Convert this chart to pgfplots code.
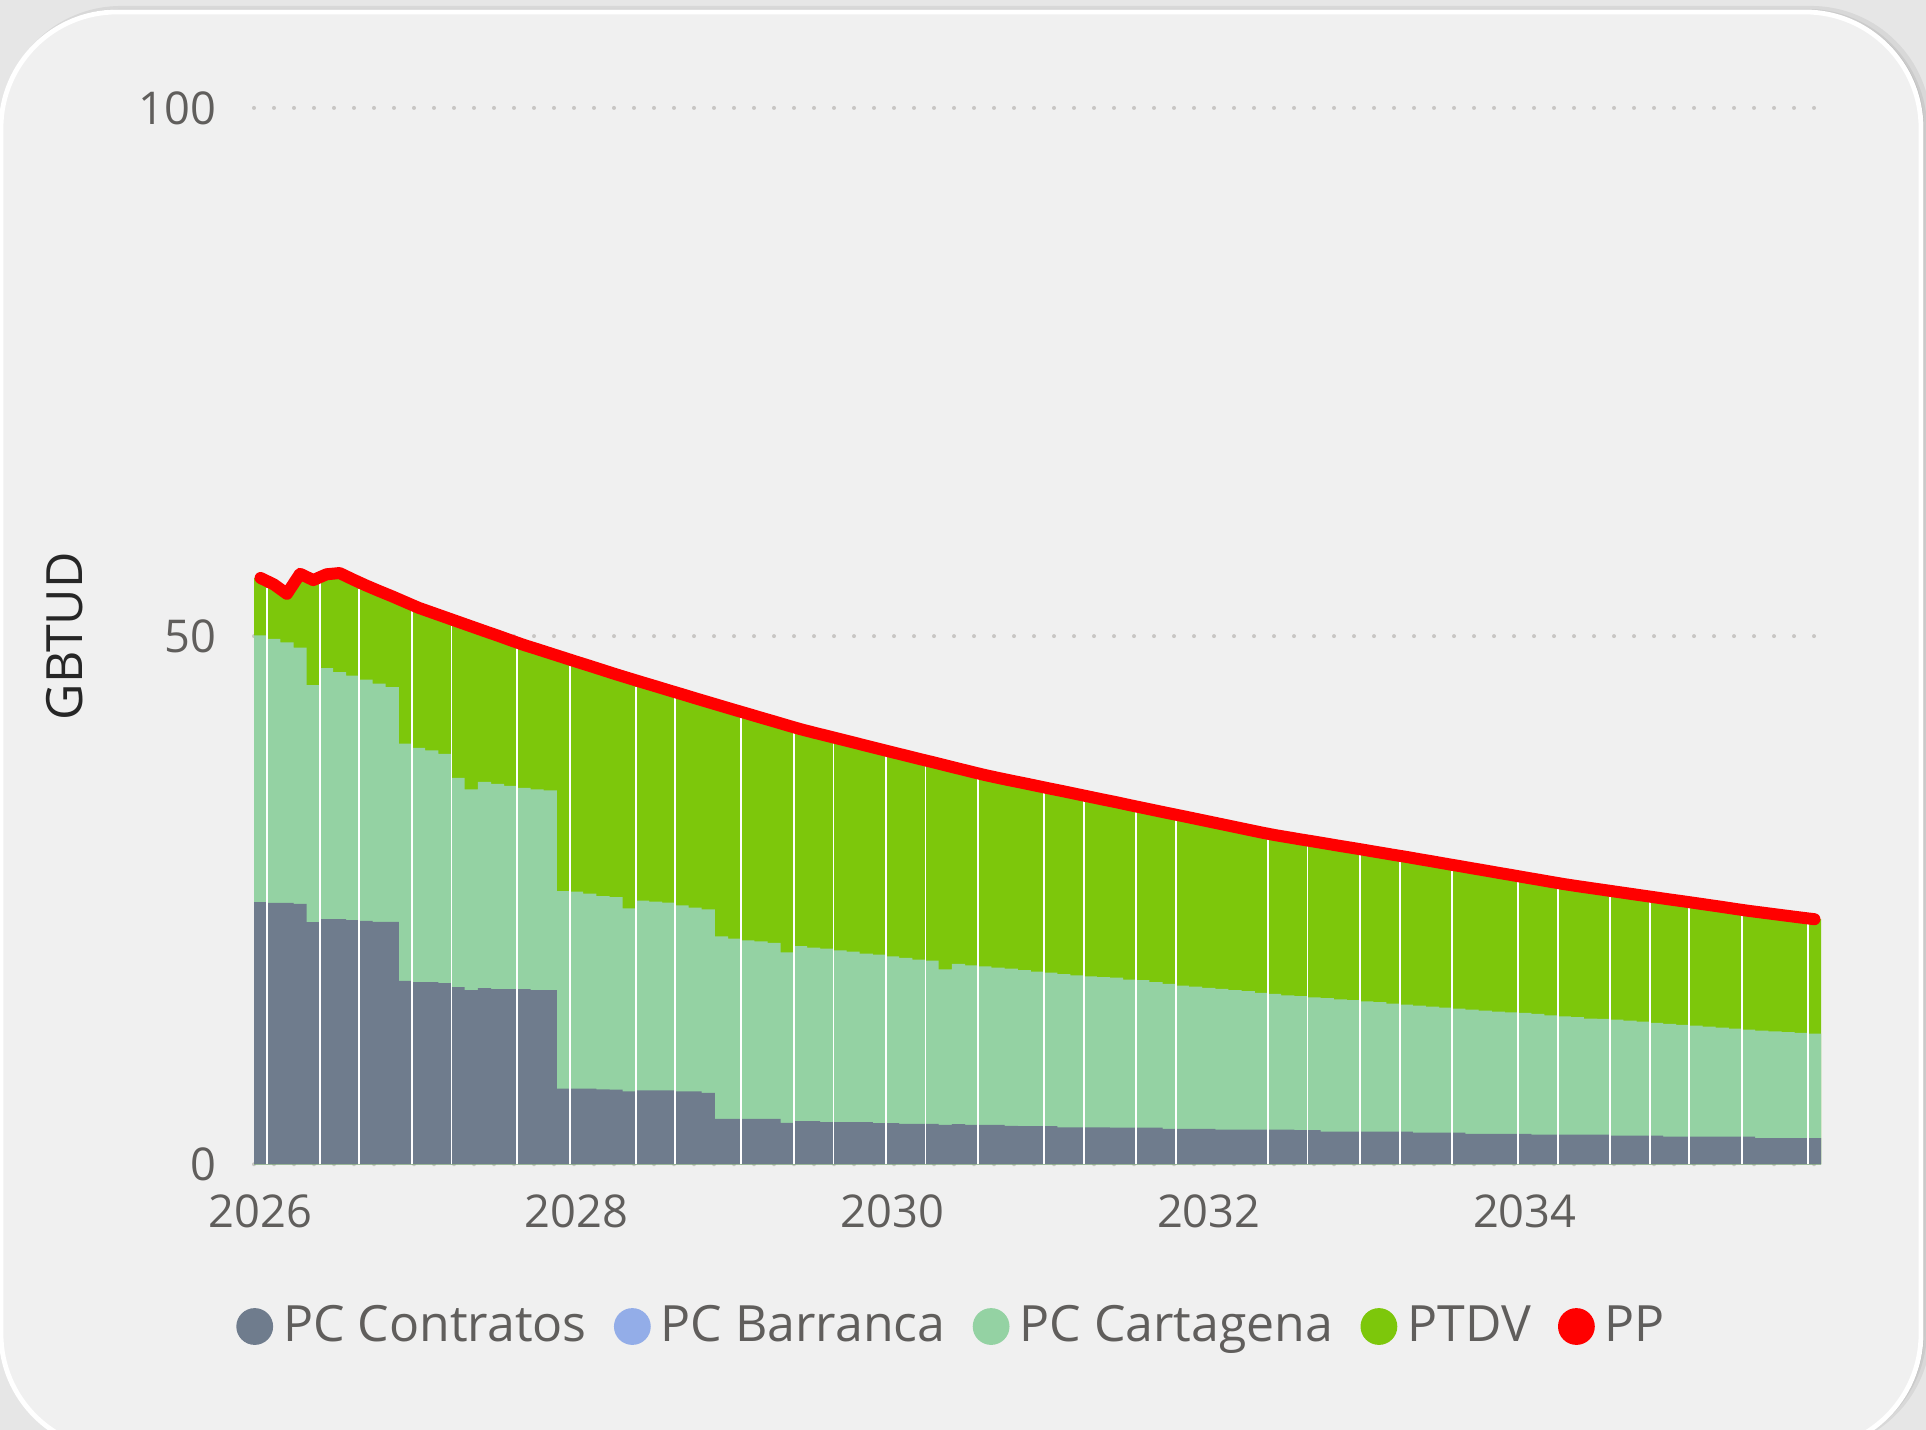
\documentclass[border=0pt]{standalone}
\usepackage{fontspec}
\setmainfont{Open Sans}
\usepackage{pgfplots}
\pgfplotsset{compat=1.18}
\usepackage{pgfplotstable}
\definecolor{contr}{HTML}{6F7C8D}
\definecolor{barr}{HTML}{93ADE8}
\definecolor{cart}{HTML}{94D2A3}
\definecolor{ptdv}{HTML}{7DC70B}
\definecolor{pp}{HTML}{FF0000}
\definecolor{cardbg}{HTML}{F0F0F0}
\definecolor{outerbg}{HTML}{E6E6E6}
\definecolor{txt}{HTML}{605E5C}
\definecolor{gridc}{HTML}{C8C6C4}

\pgfplotstableread{
m contr cart total
0 24.82 50.06 55.50
1 24.75 49.74 54.90
2 24.75 49.40 54.00
3 24.66 48.92 55.90
4 22.92 45.35 55.30
5 23.21 46.96 55.85
6 23.21 46.58 55.97
7 23.11 46.26 55.37
8 23.03 45.88 54.80
9 22.95 45.50 54.27
10 22.95 45.16 53.76
11 17.36 39.81 53.22
12 17.25 39.43 52.68
13 17.25 39.18 52.24
14 17.15 38.86 51.80
15 16.77 36.58 51.36
16 16.49 35.48 50.92
17 16.68 36.20 50.48
18 16.58 36.01 50.05
19 16.58 35.82 49.60
20 16.58 35.63 49.16
21 16.49 35.48 48.77
22 16.49 35.39 48.37
23 7.17 25.86 47.97
24 7.17 25.81 47.57
25 7.17 25.62 47.18
26 7.08 25.39 46.78
27 7.06 25.30 46.38
28 6.89 24.23 46.00
29 6.99 24.97 45.62
30 6.99 24.87 45.25
31 6.99 24.77 44.87
32 6.89 24.50 44.50
33 6.89 24.30 44.12
34 6.76 24.13 43.75
35 4.29 21.57 43.38
36 4.29 21.37 43.01
37 4.29 21.20 42.65
38 4.29 21.10 42.28
39 4.29 20.97 41.92
40 3.93 20.07 41.55
41 4.09 20.64 41.19
42 4.09 20.50 40.87
43 3.99 20.41 40.56
44 3.99 20.24 40.25
45 3.99 20.14 39.94
46 3.99 19.94 39.62
47 3.89 19.84 39.31
48 3.89 19.67 39.00
49 3.83 19.54 38.69
50 3.83 19.37 38.38
51 3.83 19.27 38.08
52 3.73 18.44 37.77
53 3.79 18.97 37.46
54 3.73 18.84 37.15
55 3.73 18.74 36.85
56 3.73 18.61 36.58
57 3.63 18.51 36.32
58 3.60 18.38 36.07
59 3.60 18.24 35.81
60 3.60 18.14 35.55
61 3.50 18.01 35.30
62 3.50 17.88 35.04
63 3.50 17.78 34.78
64 3.50 17.72 34.52
65 3.48 17.68 34.27
66 3.48 17.49 34.00
67 3.48 17.43 33.74
68 3.48 17.24 33.48
69 3.35 17.08 33.22
70 3.35 16.92 32.97
71 3.35 16.82 32.71
72 3.35 16.70 32.45
73 3.29 16.60 32.19
74 3.29 16.48 31.93
75 3.29 16.38 31.67
76 3.29 16.22 31.41
77 3.29 16.13 31.17
78 3.29 16.00 30.96
79 3.23 15.91 30.75
80 3.23 15.81 30.55
81 3.10 15.72 30.34
82 3.10 15.62 30.13
83 3.10 15.53 29.93
84 3.10 15.43 29.72
85 3.10 15.34 29.51
86 3.10 15.21 29.30
87 3.10 15.12 29.10
88 3.00 15.02 28.88
89 3.00 14.93 28.67
90 3.00 14.83 28.45
91 3.00 14.74 28.24
92 2.88 14.64 28.02
93 2.88 14.55 27.81
94 2.88 14.45 27.59
95 2.88 14.39 27.38
96 2.88 14.33 27.16
97 2.80 14.23 26.95
98 2.80 14.10 26.73
99 2.80 14.01 26.52
100 2.80 13.92 26.33
101 2.80 13.79 26.15
102 2.80 13.76 25.97
103 2.72 13.69 25.79
104 2.72 13.60 25.61
105 2.72 13.50 25.43
106 2.72 13.38 25.25
107 2.62 13.28 25.07
108 2.62 13.19 24.90
109 2.62 13.12 24.72
110 2.62 13.03 24.54
111 2.62 12.93 24.36
112 2.62 12.84 24.17
113 2.62 12.75 23.99
114 2.47 12.65 23.83
115 2.47 12.59 23.67
116 2.47 12.52 23.51
117 2.47 12.43 23.35
118 2.47 12.37 23.20
119 2.47 12.37 23.20
}\data

\begin{document}
\begin{tikzpicture}[x=0.25pt,y=0.25pt]
\useasboundingbox (0,0) rectangle (1926,1430);
\fill[outerbg] (0,0) rectangle (1926,1430);
\fill[black,opacity=0.06,rounded corners=30pt] (1,-20) rectangle (1931,1424);
\fill[black,opacity=0.06,rounded corners=30pt] (1,-20) rectangle (1927,1421);
\fill[black,opacity=0.06,rounded corners=29pt] (1,-20) rectangle (1924,1419);
\fill[cardbg,draw=white,line width=1.2pt,rounded corners=29pt] (1,-20) rectangle (1921,1418);
\begin{axis}[
  at={(63.5pt,66.43pt)}, anchor=south west,
  scale only axis, width=391.75pt, height=264.08pt,
  xmin=-0.5, xmax=118.5, ymin=0, ymax=100,
  axis line style={draw=none}, major tick length=0pt,
  xtick={0,24,48,72,96}, xticklabels={2026,2028,2030,2032,2034},
  ytick={0,50,100}, yticklabels={0,50,100},
  ymajorgrids,
  grid style={gridc, line width=1pt, line cap=round, dash pattern=on 0pt off 5pt},
  tick label style={font=\fontsize{11.3}{13}\selectfont, text=txt},
  xticklabel style={yshift=-4.2pt},
  yticklabel style={xshift=-6pt},
  ylabel={GBTUD},
  ylabel style={font=\fontsize{12.5}{14}\selectfont, text=black!85, at={(axis description cs:-0.1206,0.5)}, anchor=center},
  clip=false,
  legend columns=-1,
  legend image code/.code={\fill[#1] (4.6pt,0pt) circle (4.6pt);},
  legend style={at={(-0.0118,-0.1536)}, anchor=west, draw=none, fill=none, inner sep=0pt,
    font=\fontsize{12.5}{14}\selectfont, text=txt,
    nodes={inner xsep=2.5pt, inner ysep=0pt},
    /tikz/every even column/.append style={column sep=4.3pt}},
]
\addplot[fill=ptdv, draw=none, const plot mark left, forget plot] table[x expr=\thisrow{m}-0.5, y=total] {\data} \closedcycle;
\addplot[fill=cart, draw=none, const plot mark left, forget plot] table[x expr=\thisrow{m}-0.5, y=cart] {\data} \closedcycle;
\addplot[fill=contr, draw=none, const plot mark left, forget plot] table[x expr=\thisrow{m}-0.5, y=contr] {\data} \closedcycle;
\addplot[ycomb, draw=white, line width=0.45pt, forget plot] coordinates {
(0.5,54.6) (4.5,55.5) (7.5,54.5) (11.5,52.4) (14.5,51.0) (19.5,48.9) (23.5,47.2)
(28.5,45.2) (31.5,44.2) (36.5,42.4) (40.5,40.9) (43.5,40.0) (47.5,38.7) (50.5,37.8)
(54.5,36.6) (59.5,35.3) (62.5,34.5) (66.5,33.4) (69.5,32.7) (76.5,30.9) (79.5,30.2)
(83.5,29.4) (86.5,28.8) (90.5,27.9) (95.5,26.9) (98.5,26.2) (102.5,25.5) (105.5,25.0)
(108.5,24.4) (112.5,23.7) (117.5,22.9)};
\addplot[pp, line width=3pt, line join=round, line cap=round, restrict x to domain=0:118, forget plot] table[x=m, y=total] {\data};
\addlegendimage{fill=contr, draw=none}\addlegendentry{PC Contratos}
\addlegendimage{fill=barr, draw=none}\addlegendentry{PC Barranca}
\addlegendimage{fill=cart, draw=none}\addlegendentry{PC Cartagena}
\addlegendimage{fill=ptdv, draw=none}\addlegendentry{PTDV}
\addlegendimage{fill=pp, draw=none}\addlegendentry{PP}
\end{axis}
\end{tikzpicture}
\end{document}
